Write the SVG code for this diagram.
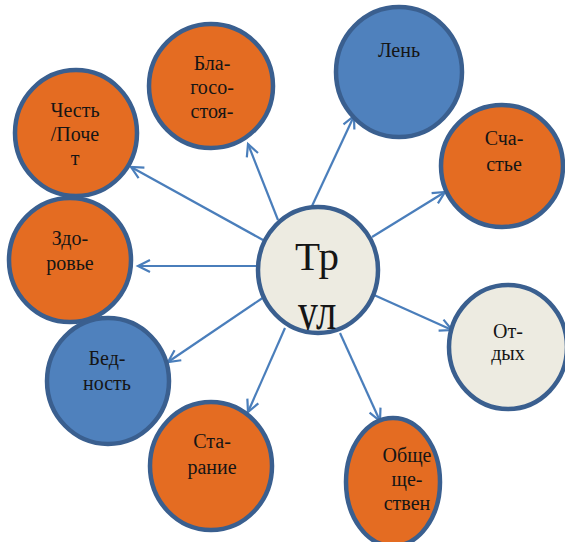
<svg xmlns="http://www.w3.org/2000/svg" width="565" height="542" viewBox="0 0 565 542">
<defs>
<style>
.n{stroke:#3A5F8F;stroke-width:4.5}
.o{fill:#E46C22}
.b{fill:#4F81BD}
.g{fill:#EDEBE1}
.t{font-family:"Liberation Serif","Times New Roman",serif;font-size:20px;fill:#151515;text-anchor:middle}
.c{stroke:#4A7EBB;stroke-width:2.2;fill:none;marker-end:url(#ah)}
</style>
<marker id="ah" markerUnits="userSpaceOnUse" markerWidth="16" markerHeight="16" refX="13" refY="7" orient="auto" viewBox="0 0 16 14">
<path d="M1,1 L13,7 L1,13" fill="none" stroke="#4A7EBB" stroke-width="2.2"/>
</marker>
<clipPath id="cc"><rect x="250" y="200" width="140" height="130"/></clipPath>
</defs>
<g id="connectors">
<line class="c" x1="278" y1="220" x2="248" y2="144"/>
<line class="c" x1="263" y1="240" x2="131" y2="167"/>
<line class="c" x1="257" y1="266" x2="138" y2="266"/>
<line class="c" x1="264" y1="297" x2="168" y2="362"/>
<line class="c" x1="285" y1="328" x2="248" y2="412"/>
<line class="c" x1="340" y1="333" x2="380" y2="421"/>
<line class="c" x1="374" y1="295" x2="452" y2="330"/>
<line class="c" x1="372" y1="237" x2="445" y2="192"/>
<line class="c" x1="312" y1="206" x2="354" y2="116"/>
</g>
<g id="n-blago"><ellipse class="n o" cx="211" cy="86" rx="62" ry="62"/>
<text class="t" x="212" y="70">Бла-</text><text class="t" x="212" y="94">госо-</text><text class="t" x="212" y="118">стоя-</text></g>
<g id="n-len"><ellipse class="n b" cx="399" cy="72" rx="63" ry="65"/>
<text class="t" x="399" y="57">Лень</text></g>
<g id="n-schastie"><ellipse class="n o" cx="502" cy="166" rx="61" ry="61"/>
<text class="t" x="504" y="145">Сча-</text><text class="t" x="504" y="171">стье</text></g>
<g id="n-chest"><ellipse class="n o" cx="76" cy="133" rx="61" ry="63"/>
<text class="t" x="75" y="117">Честь</text><text class="t" x="75" y="141">/Поче</text><text class="t" x="75" y="165">т</text></g>
<g id="n-zdorovie"><ellipse class="n o" cx="70" cy="260" rx="61" ry="62"/>
<text class="t" x="70" y="245">Здо-</text><text class="t" x="70" y="270">ровье</text></g>
<g id="n-bednost"><ellipse class="n b" cx="108" cy="381" rx="61" ry="63"/>
<text class="t" x="107" y="365">Бед-</text><text class="t" x="107" y="390">ность</text></g>
<g id="n-staranie"><ellipse class="n o" cx="211" cy="466" rx="61" ry="64"/>
<text class="t" x="212" y="448">Ста-</text><text class="t" x="212" y="474">рание</text></g>
<g id="n-obsch"><ellipse class="n o" cx="393" cy="482" rx="47" ry="64"/>
<text class="t" x="407" y="462">Обще</text><text class="t" x="407" y="486">ще-</text><text class="t" x="407" y="510">ствен</text></g>
<g id="n-otdyh"><ellipse class="n g" cx="508" cy="347" rx="59" ry="62"/>
<text class="t" x="508" y="338">От-</text><text class="t" x="508" y="360">дых</text></g>
<g id="n-trud"><ellipse class="n g" cx="318" cy="270" rx="60" ry="63"/>
<g clip-path="url(#cc)"><text class="t" x="317" y="270" style="font-size:41px">Тр</text><text class="t" x="0" y="0" style="font-size:41px" transform="translate(317,329) scale(1,1.3)">ул</text></g></g>
</svg>
